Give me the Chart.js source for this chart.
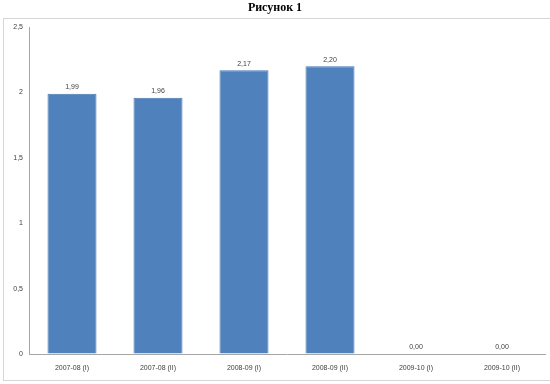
<!DOCTYPE html>
<html>
<head>
<meta charset="utf-8">
<script src="https://cdn.jsdelivr.net/npm/chart.js@4/dist/chart.umd.min.js"></script>
<style>
  html, body { margin: 0; padding: 0; background: #fff; }
  #wrap { width: 550px; height: 384px; position: relative; }
</style>
</head>
<body>
<div id="wrap"><canvas id="chart"></canvas></div>
<script>
const categories = ['2007-08 (I)', '2007-08 (II)', '2008-09 (I)', '2008-09 (II)', '2009-10 (I)', '2009-10 (II)'];
const values = [1.99, 1.96, 2.17, 2.20, 0, 0];
const yTicks = [0, 0.5, 1, 1.5, 2, 2.5];
const titleText = 'Рисунок 1';

// рамка и заголовок
const framePlugin = {
    id: 'frame',
    beforeDraw(chart) {
        const ctx = chart.ctx;
        ctx.save();
        ctx.strokeStyle = '#d6d6d6';
        ctx.lineWidth = 1;
        ctx.strokeRect(3.5, 18.5, 560, 362);
        ctx.fillStyle = '#000';
        ctx.font = 'bold 12px "Liberation Serif", serif';
        ctx.textAlign = 'center';
        ctx.textBaseline = 'middle';
        ctx.fillText(titleText, 275, 8);
        ctx.restore();
    }
};

// подписи значений над столбцами
const labelsPlugin = {
    id: 'valueLabels',
    afterDatasetsDraw(chart) {
        const ctx = chart.ctx;
        const meta = chart.getDatasetMeta(0);
        ctx.save();
        ctx.fillStyle = '#404040';
        ctx.font = '7px "Liberation Sans", sans-serif';
        ctx.textAlign = 'center';
        ctx.textBaseline = 'bottom';
        meta.data.forEach((bar, i) => {
            ctx.fillText(values[i].toFixed(2).replace('.', ','), bar.x, bar.y - 3);
        });
        ctx.restore();
    }
};

new Chart(document.getElementById('chart'), {
    type: 'bar',
    data: {
        labels: categories,
        datasets: [{
            data: values,
            backgroundColor: '#4f81bd',
            borderColor: '#4677b3',
            borderWidth: 1,
            categoryPercentage: 1,
            barPercentage: 0.57
        }]
    },
    options: {
        responsive: true,
        maintainAspectRatio: false,
        animation: false,
        layout: { padding: { top: 27, right: 5, left: 0, bottom: 0 } },
        plugins: {
            legend: { display: false },
            tooltip: { enabled: false }
        },
        scales: {
            x: {
                grid: { color: 'transparent', drawTicks: false },
                border: { display: true, color: '#a6a6a6' },
                ticks: {
                    padding: 10,
                    color: '#404040',
                    maxRotation: 0,
                    font: { size: 7, family: '"Liberation Sans", sans-serif' }
                },
                afterFit(scale) { scale.height = 30; }
            },
            y: {
                min: 0,
                max: 2.5,
                afterBuildTicks(scale) { scale.ticks = yTicks.map(v => ({ value: v })); },
                grid: { color: 'transparent', drawTicks: false },
                border: { display: true, color: '#a6a6a6' },
                ticks: {
                    padding: 6,
                    color: '#404040',
                    font: { size: 7, family: '"Liberation Sans", sans-serif' },
                    callback: v => String(v).replace('.', ',')
                },
                afterFit(scale) { scale.width = 29; }
            }
        }
    },
    plugins: [framePlugin, labelsPlugin]
});
</script>
</body>
</html>
